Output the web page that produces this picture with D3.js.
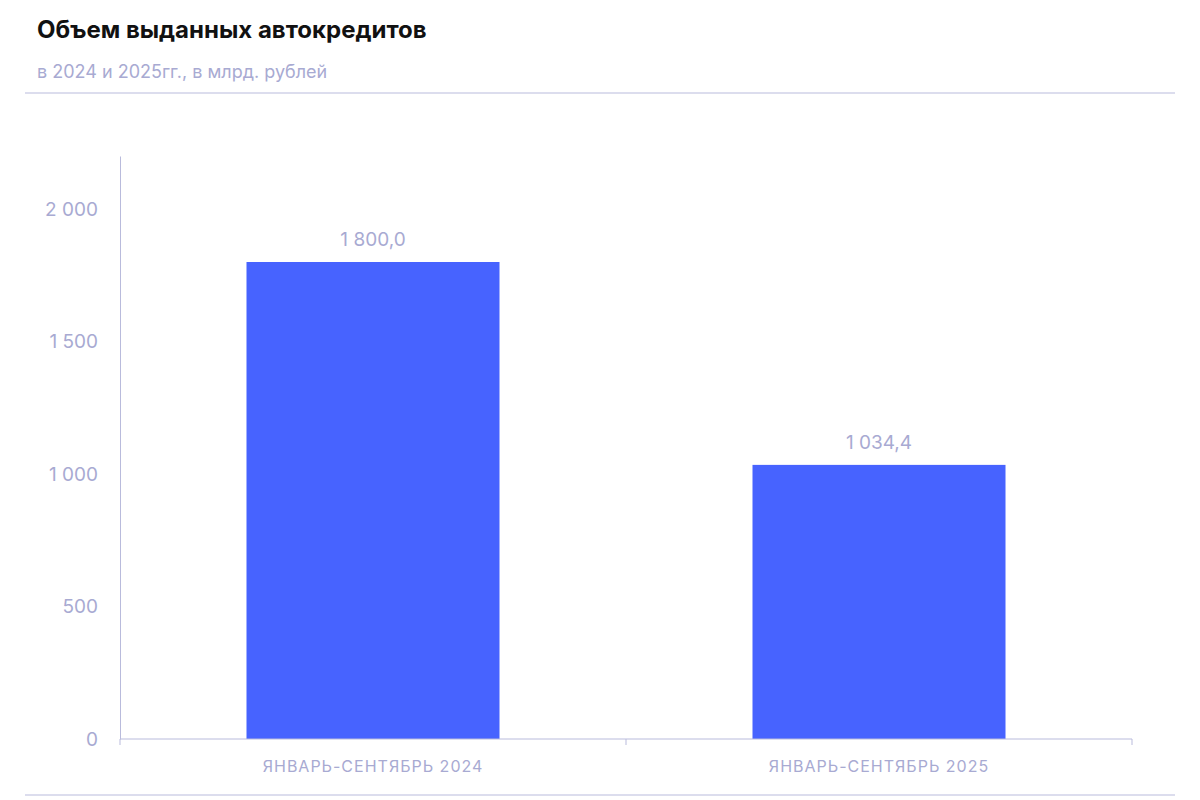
<!DOCTYPE html>
<html><head><meta charset="utf-8">
<script src="https://cdn.jsdelivr.net/npm/d3@7"></script>
<style>body{margin:0;background:#fff}text{font-family:Inter,"Noto Sans",sans-serif}</style>
</head><body>
<svg id="c" width="1200" height="800"></svg>
<script>
const categories = ["ЯНВАРЬ-СЕНТЯБРЬ 2024", "ЯНВАРЬ-СЕНТЯБРЬ 2025"];
const values = [1800.0, 1034.4];
const yTicks = [0, 500, 1000, 1500, 2000];
const title = "Объем выданных автокредитов";
const subtitle = "в 2024 и 2025гг., в млрд. рублей";

const svg = d3.select("#c");
const grey = "#a8aad2", lineC = "#b9bbdc", barC = "#4763ff";
const fmt = v => v.toFixed(1).replace(".", ",").replace(/\B(?=(\d{3})+(?!\d))/g, " ");
const fmtT = v => String(v).replace(/\B(?=(\d{3})+(?!\d))/g, " ");

svg.append("text").attr("x", 37).attr("y", 38).attr("font-size", 24).attr("font-weight", 700).attr("fill", "#111").text(title);
svg.append("text").attr("x", 37).attr("y", 78).attr("font-size", 18).attr("fill", grey).text(subtitle);
svg.append("line").attr("x1", 25).attr("x2", 1175).attr("y1", 93).attr("y2", 93).attr("stroke", lineC);
svg.append("line").attr("x1", 25).attr("x2", 1175).attr("y1", 795).attr("y2", 795).attr("stroke", lineC);

const x = d3.scaleBand().domain(categories).range([120, 1132]).paddingInner(0.5).paddingOuter(0.25);
const y = d3.scaleLinear().domain([0, 2200]).range([739, 156]);

svg.selectAll("rect.bar").data(values).enter().append("rect")
  .attr("x", (d, i) => x(categories[i])).attr("width", x.bandwidth())
  .attr("y", d => y(d)).attr("height", d => y(0) - y(d)).attr("fill", barC);
svg.selectAll("text.lbl").data(values).enter().append("text")
  .attr("x", (d, i) => x(categories[i]) + x.bandwidth() / 2).attr("y", d => y(d) - 16)
  .attr("text-anchor", "middle").attr("font-size", 19).attr("fill", grey).text(fmt);

const yAxis = svg.append("g").attr("transform", "translate(120,0)")
  .call(d3.axisLeft(y).tickValues(yTicks).tickFormat(fmtT).tickSize(0).tickPadding(22));
yAxis.select(".domain").attr("stroke", lineC);
yAxis.selectAll("text").attr("font-size", 19).attr("fill", grey).style("font-family", "Inter,'Noto Sans',sans-serif");

const xb = d3.scalePoint().domain([0, 1, 2]).range([120, 1132]);
const g = svg.append("g");
g.append("line").attr("x1", 120).attr("x2", 1132).attr("y1", 739).attr("y2", 739).attr("stroke", lineC);
g.selectAll("line.t").data([0, 1, 2]).enter().append("line")
  .attr("x1", d => xb(d)).attr("x2", d => xb(d)).attr("y1", 739).attr("y2", 745).attr("stroke", lineC);
svg.selectAll("text.cat").data(categories).enter().append("text")
  .attr("x", d => x(d) + x.bandwidth() / 2).attr("y", 772).attr("text-anchor", "middle")
  .attr("font-size", 16).attr("letter-spacing", 1).attr("fill", grey).text(d => d);
</script></body></html>
